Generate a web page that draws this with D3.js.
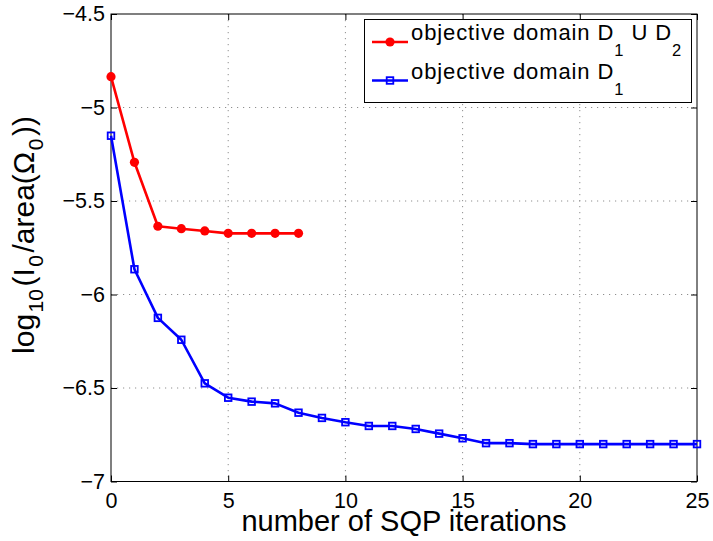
<!DOCTYPE html>
<html>
<head>
<meta charset="utf-8">
<script src="https://cdn.jsdelivr.net/npm/d3@7"></script>
<style>
  html, body { margin: 0; padding: 0; background: #fff; }
  svg { display: block; font-family: "Liberation Sans", Arial, Helvetica, sans-serif; }
</style>
</head>
<body>
<svg id="chart" width="713" height="541"></svg>
<script>
// Objective value per SQP iteration for the two objective domains
const iterUnion = [0, 1, 2, 3, 4, 5, 6, 7, 8];
const valsUnion = [-4.835, -5.293, -5.635, -5.648, -5.660, -5.673, -5.673, -5.673, -5.673];

const iterD1 = [0, 1, 2, 3, 4, 5, 6, 7, 8, 9, 10, 11, 12, 13, 14, 15, 16, 17, 18, 19, 20, 21, 22, 23, 24, 25];
const valsD1 = [-5.151, -5.865, -6.125, -6.242, -6.475, -6.552, -6.573, -6.582, -6.632, -6.660,
                -6.683, -6.703, -6.703, -6.719, -6.744, -6.769, -6.795, -6.795, -6.800, -6.800,
                -6.800, -6.800, -6.800, -6.800, -6.800, -6.800];

const xTicks = [0, 5, 10, 15, 20, 25];
const yTicks = [-7, -6.5, -6, -5.5, -5, -4.5];

const svg = d3.select("#chart");
const L = 111, R = 697, T = 14, B = 481.5;

const x = d3.scaleLinear().domain([0, 25]).range([L, R]);
const y = d3.scaleLinear().domain([-7, -4.5]).range([B, T]);

const fmt = v => d3.format("")(v).replace("-", "\u2212");

// dotted grid
const grid = svg.append("g");
grid.selectAll("line.gx").data(xTicks.slice(1, -1)).join("line")
  .attr("x1", d => x(d)).attr("x2", d => x(d)).attr("y1", T).attr("y2", B)
  .attr("stroke", "#8f8f8f").attr("stroke-width", 1).attr("stroke-dasharray", "1.2,4.8");
grid.selectAll("line.gy").data(yTicks.slice(1, -1)).join("line")
  .attr("y1", d => y(d)).attr("y2", d => y(d)).attr("x1", L).attr("x2", R)
  .attr("stroke", "#8f8f8f").attr("stroke-width", 1).attr("stroke-dasharray", "1.2,4.8");

// axes with inward ticks on all four sides
const tickLen = 6;
const xAxisB = d3.axisBottom(x).tickValues(xTicks).tickSizeInner(-tickLen).tickSizeOuter(0).tickFormat(fmt);
const xAxisT = d3.axisTop(x).tickValues(xTicks).tickSizeInner(-tickLen).tickSizeOuter(0).tickFormat("");
const yAxisL = d3.axisLeft(y).tickValues(yTicks).tickSizeInner(-tickLen).tickSizeOuter(0).tickPadding(6).tickFormat(fmt);
const yAxisR = d3.axisRight(y).tickValues(yTicks).tickSizeInner(-tickLen).tickSizeOuter(0).tickFormat("");

function styleAxis(g) {
  g.select(".domain").remove();
  g.selectAll(".tick line").attr("stroke", "#000").attr("stroke-width", 1);
  g.selectAll(".tick text").attr("fill", "#000").attr("font-size", 21.5)
    .attr("font-family", "Liberation Sans, Arial, sans-serif");
}
svg.append("g").attr("transform", `translate(0,${B})`).call(xAxisB).call(styleAxis)
  .selectAll(".tick text").attr("dy", null).attr("y", 26);
svg.append("g").attr("transform", `translate(0,${T})`).call(xAxisT).call(styleAxis);
svg.append("g").attr("transform", `translate(${L},0)`).call(yAxisL).call(styleAxis);
svg.append("g").attr("transform", `translate(${R},0)`).call(yAxisR).call(styleAxis);

// frame
svg.append("rect").attr("x", L).attr("y", T).attr("width", R - L).attr("height", B - T)
  .attr("fill", "none").attr("stroke", "#000").attr("stroke-width", 1);

// series
const line = d3.line().x(d => x(d[0])).y(d => y(d[1]));
const unionPts = iterUnion.map((k, i) => [k, valsUnion[i]]);
const d1Pts = iterD1.map((k, i) => [k, valsD1[i]]);

svg.append("path").datum(d1Pts).attr("d", line)
  .attr("fill", "none").attr("stroke", "#0000ff").attr("stroke-width", 2.6).attr("stroke-linejoin", "round");
svg.append("g").selectAll("rect").data(d1Pts).join("rect")
  .attr("x", d => x(d[0]) - 3.3).attr("y", d => y(d[1]) - 3.3)
  .attr("width", 6.6).attr("height", 6.6)
  .attr("fill", "none").attr("stroke", "#0000ff").attr("stroke-width", 1.8);

svg.append("path").datum(unionPts).attr("d", line)
  .attr("fill", "none").attr("stroke", "#ff0000").attr("stroke-width", 2.6).attr("stroke-linejoin", "round");
svg.append("g").selectAll("circle").data(unionPts).join("circle")
  .attr("cx", d => x(d[0])).attr("cy", d => y(d[1])).attr("r", 4.6)
  .attr("fill", "#ff0000");

// legend
const leg = svg.append("g");
leg.append("rect").attr("x", 364.5).attr("y", 19.5).attr("width", 327).attr("height", 83)
  .attr("fill", "#fff").attr("stroke", "#000").attr("stroke-width", 1);

const legendRows = [
  { color: "#ff0000", marker: "circle", ly: 42, by: 39.5, parts: [["objective domain D", false], ["1", true], [" U D", false], ["2", true]] },
  { color: "#0000ff", marker: "square", ly: 80.5, by: 79, parts: [["objective domain D", false], ["1", true]] }
];
const subShift = 16;
legendRows.forEach(r => {
  leg.append("line").attr("x1", 372).attr("x2", 408).attr("y1", r.ly).attr("y2", r.ly)
    .attr("stroke", r.color).attr("stroke-width", 2.6);
  if (r.marker === "circle") {
    leg.append("circle").attr("cx", 390).attr("cy", r.ly).attr("r", 4.6).attr("fill", r.color);
  } else {
    leg.append("rect").attr("x", 390 - 3.3).attr("y", r.ly - 3.3).attr("width", 6.6).attr("height", 6.6)
      .attr("fill", "none").attr("stroke", r.color).attr("stroke-width", 1.8);
  }
  const t = leg.append("text").attr("x", 411).attr("y", r.by).attr("font-size", 22)
    .attr("letter-spacing", 0.9).attr("fill", "#000");
  let sub = false;
  r.parts.forEach(([s, isSub]) => {
    const ts = t.append("tspan").text(s);
    if (isSub) {
      ts.attr("font-size", 16.5);
      if (!sub) { ts.attr("dy", subShift); sub = true; }
    } else if (sub) { ts.attr("dy", -subShift); sub = false; }
  });
});

// axis labels
svg.append("text").attr("x", (L + R) / 2).attr("y", 531).attr("text-anchor", "middle")
  .attr("font-size", 29).attr("fill", "#000").text("number of SQP iterations");

const yl = svg.append("text").attr("transform", "translate(34,235) rotate(-90)")
  .attr("text-anchor", "middle").attr("font-size", 30).attr("fill", "#000");
const ylParts = [["log", false], ["10", true], ["(I", false], ["0", true], ["/area(\u03A9", false], ["0", true], ["))", false]];
let inSub = false;
ylParts.forEach(([s, isSub]) => {
  const ts = yl.append("tspan").text(s);
  if (isSub) {
    ts.attr("font-size", 21);
    if (!inSub) { ts.attr("dy", 8.5).attr("dx", 1.5); inSub = true; }
  } else if (inSub) { ts.attr("dy", -8.5).attr("dx", 2.5); inSub = false; }
});
</script>
</body>
</html>
